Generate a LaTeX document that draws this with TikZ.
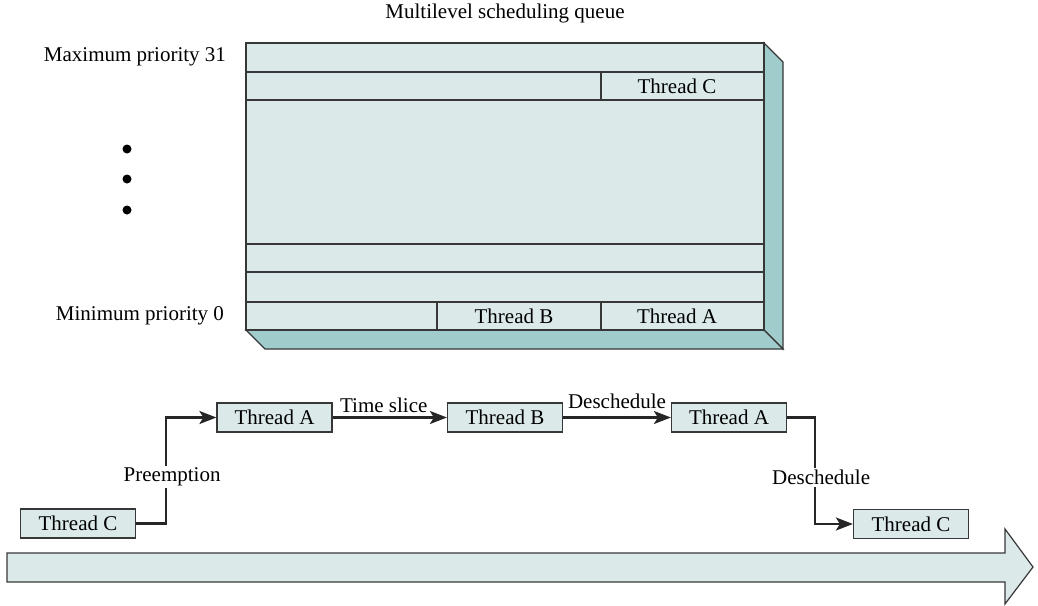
\documentclass[tikz,border=0pt]{standalone}
\usepackage{fontspec}
\setmainfont{Liberation Serif}
\usetikzlibrary{arrows.meta}
\definecolor{queuefill}{RGB}{219,233,233}
\definecolor{queueside}{RGB}{160,204,204}
\definecolor{edgegray}{RGB}{55,55,55}

\tikzset{
  cell/.style={draw=edgegray, line width=0.6pt},
  thread/.style={draw=edgegray, fill=queuefill, line width=0.6pt,
    minimum width=57.5pt, minimum height=14.5pt, inner sep=0pt},
  flow/.style={line width=1.2pt, draw=black!85,
    -{Stealth[length=8.5pt,width=6.5pt,inset=2pt]}},
  tag/.style={fill=white, inner sep=1pt}
}

\begin{document}
\begin{tikzpicture}[x=0.5pt, y=-0.5pt, font=\fontsize{10.5}{12.6}\selectfont]
		\useasboundingbox (0,0) rectangle (1038,605);
		
		% Cola multinivel
		\node (title) at (505,13) {Multilevel scheduling queue};
		\fill[queuefill] (246,43) rectangle (764,330);
		\draw[cell, fill=queueside] (764,43) -- (783,62) -- (783,349) -- (764,330) -- cycle;
		\draw[cell, fill=queueside] (246,330) -- (764,330) -- (783,349) -- (265,349) -- cycle;
		\draw[cell] (246,43) rectangle (764,330);
		\draw[cell] (246,72) -- (764,72);
		\draw[cell] (246,100) -- (764,100);
		\draw[cell] (246,244) -- (764,244);
		\draw[cell] (246,272) -- (764,272);
		\draw[cell] (246,302) -- (764,302);
		\draw[cell] (601,72) -- (601,100);
		\draw[cell] (437,302) -- (437,330);
		\draw[cell] (601,302) -- (601,330);
		\node (qc) at (677,86) {Thread C};
		\node (qb) at (514,316) {Thread B};
		\node (qa) at (677,316) {Thread A};
		
		% Prioridades
		\node[anchor=east] (maxp) at (233,57) {Maximum priority 31};
		\node[anchor=east] (minp) at (231,316) {Minimum priority 0};
		\foreach \y in {149,179,210}
			\fill (127,\y) circle (4.5);
		
		% Secuencia de hilos
		\node[thread] (c1) at (78,523.5) {Thread C};
		\node[thread] (a1) at (274.5,417.5) {Thread A};
		\node[thread] (b1) at (505,417.5) {Thread B};
		\node[thread] (a2) at (729,417.5) {Thread A};
		\node[thread] (c2) at (911,524) {Thread C};
		
		\draw[flow] (c1.east) -- ++(30,0) |- (a1.west) node[tag, pos=0.22, xshift=3pt] {Preemption};
		\draw[flow] (a1) -- (b1) node[midway, above, inner sep=2pt, xshift=-3pt] {Time slice};
		\draw[flow] (b1) -- (a2) node[midway, above, inner sep=4pt] {Deschedule};
		\draw[flow] (a2.east) -- ++(28,0) |- (c2.west) node[tag, pos=0.28, xshift=3pt] {Deschedule};
		
		% Flecha del tiempo
		\draw[cell, fill=queuefill] (7,553) -- (1005,553) -- (1005,529) -- (1033,567)
			-- (1005,604) -- (1005,582) -- (7,582) -- cycle;
	\end{tikzpicture}
\end{document}
